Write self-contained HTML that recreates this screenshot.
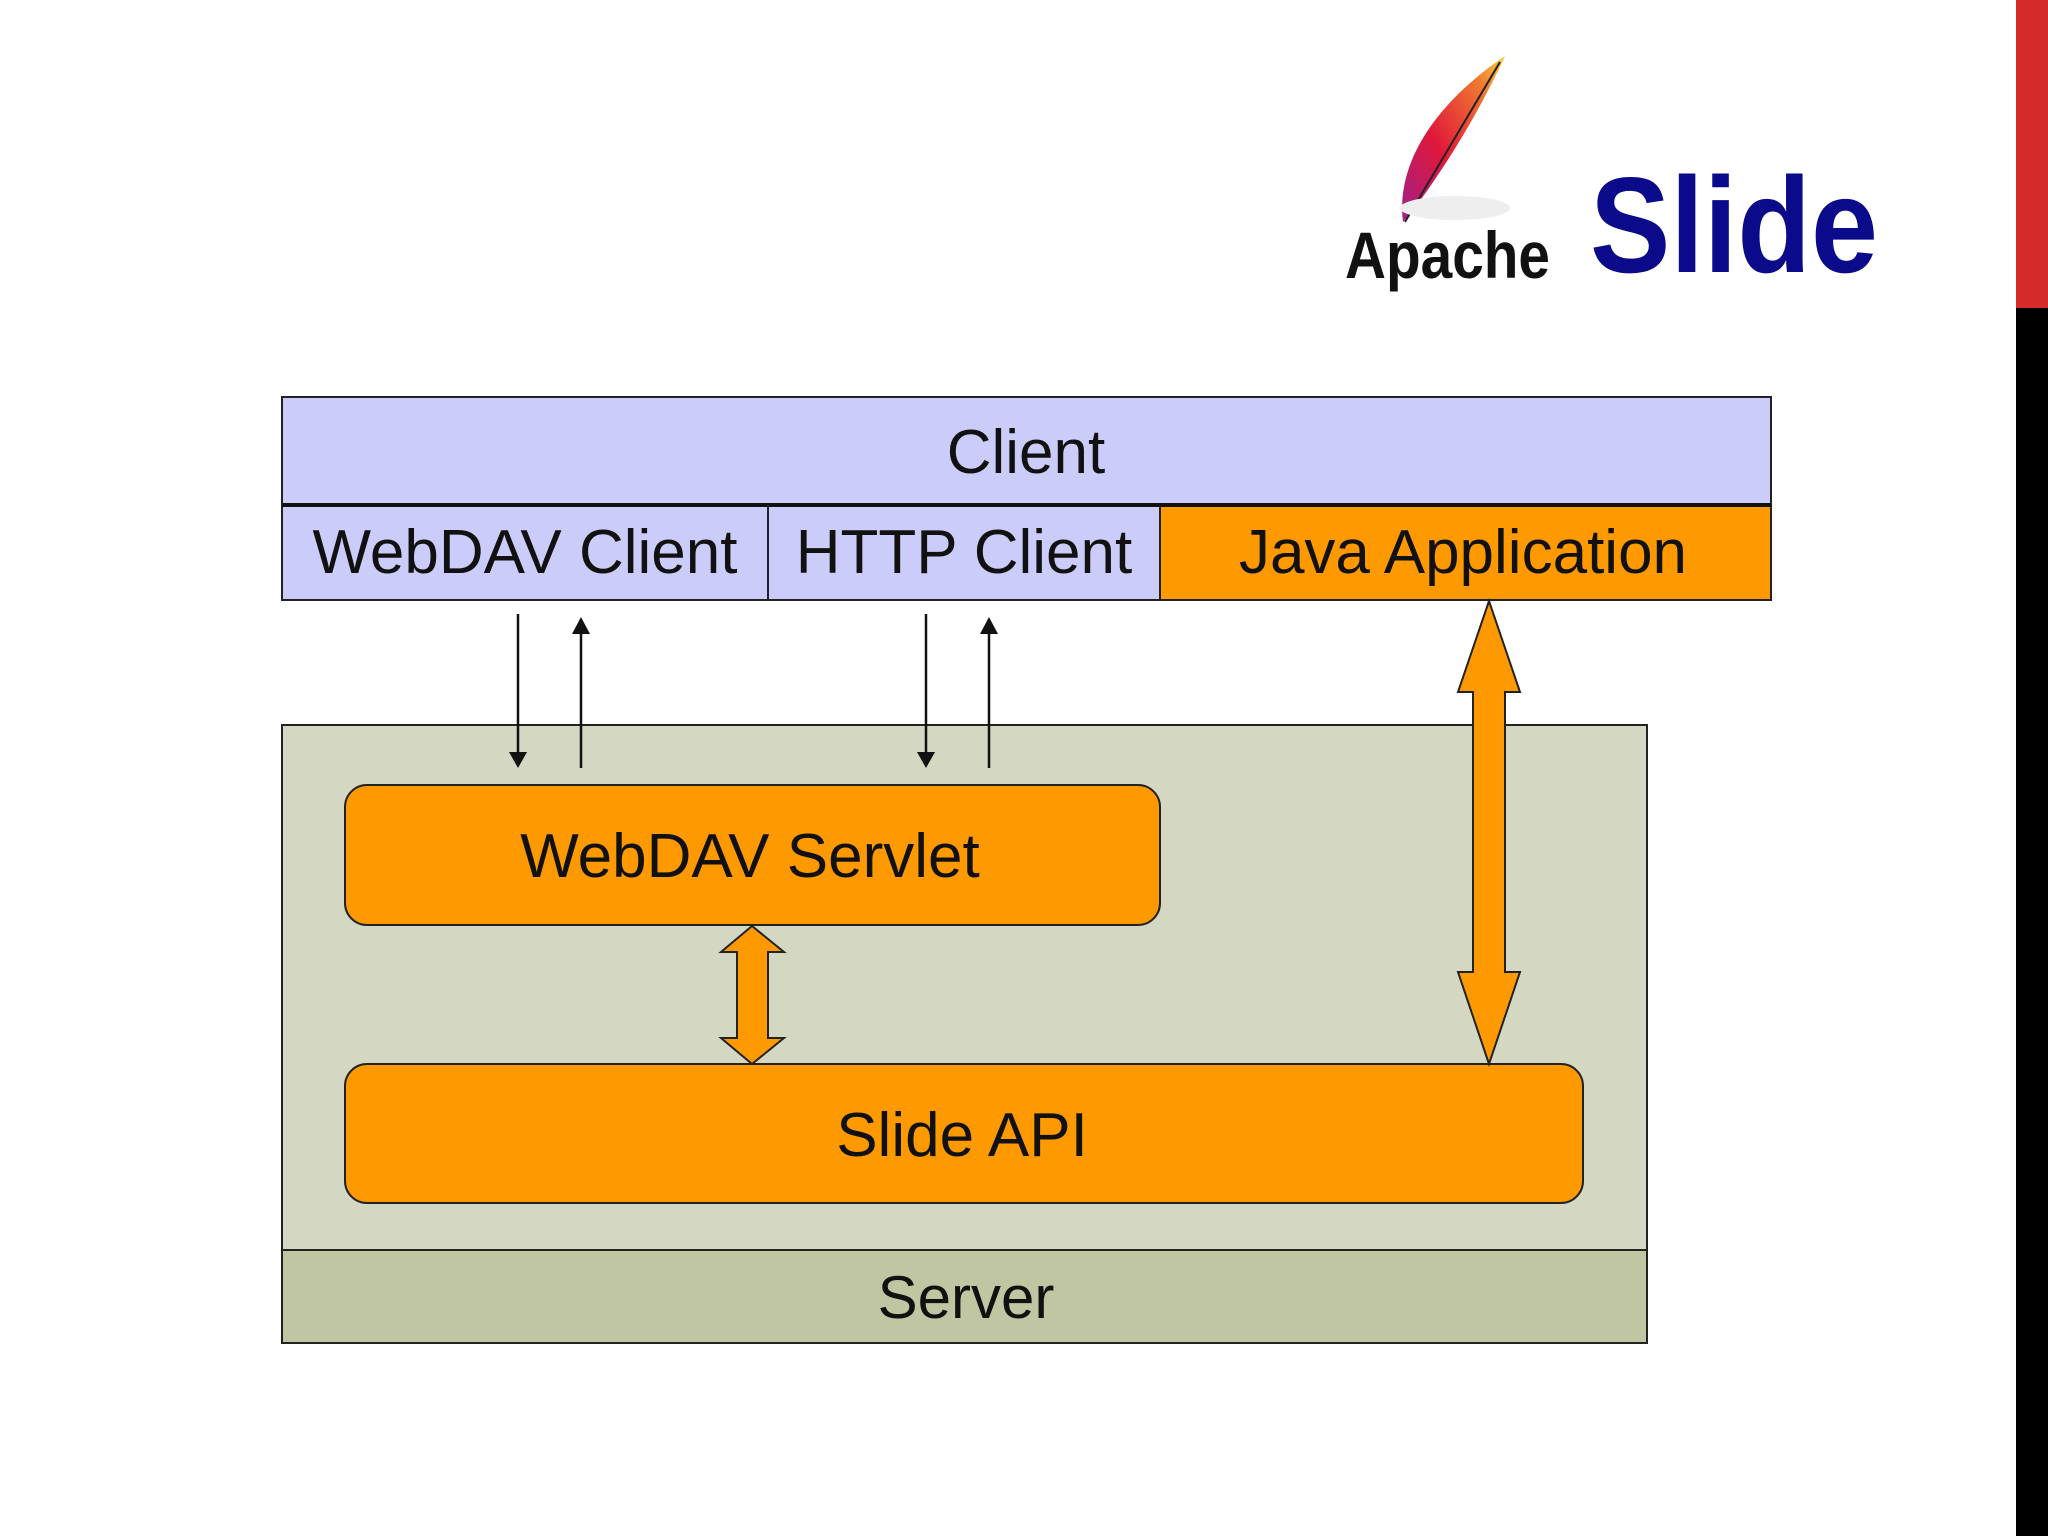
<!DOCTYPE html>
<html><head><meta charset="utf-8"><style>
html,body{margin:0;padding:0;background:#fff;}
svg{display:block;}
text{font-family:"Liberation Sans",Arial,sans-serif;}
</style></head><body>
<svg width="2048" height="1536" viewBox="0 0 2048 1536" xmlns="http://www.w3.org/2000/svg">
<defs>
<linearGradient id="feather" x1="0" y1="1" x2="1" y2="0">
<stop offset="0" stop-color="#a0208a"/><stop offset="0.4" stop-color="#e0183a"/><stop offset="0.8" stop-color="#f07a30"/><stop offset="1" stop-color="#f8d040"/>
</linearGradient>
</defs>
<rect x="0" y="0" width="2048" height="1536" fill="#fff"/>
<rect x="2016" y="0" width="32" height="308" fill="#d42a2a"/>
<rect x="2016" y="308" width="32" height="1228" fill="#000"/>
<!-- logo -->
<path d="M1403 222 C1395 160 1440 100 1505 56 C1480 110 1450 160 1412 212 Z" fill="url(#feather)"/>
<path d="M1405 222 L1500 62" stroke="#222" stroke-width="2"/>
<ellipse cx="1455" cy="208" rx="55" ry="12" fill="#eee"/>
<text x="1345" y="278" font-size="66" font-weight="bold" fill="#111" textLength="205" lengthAdjust="spacingAndGlyphs">Apache</text>
<text x="1590" y="272" font-size="136" font-weight="bold" fill="#0a0a8a" textLength="288" lengthAdjust="spacingAndGlyphs">Slide</text>
<!-- client -->
<rect x="282" y="397" width="1489" height="108" fill="#ccccfa" stroke="#222" stroke-width="2"/>
<rect x="282" y="505" width="1489" height="95" fill="#ccccfa" stroke="#222" stroke-width="2"/>
<rect x="1160" y="505" width="611" height="95" fill="#fe9900" stroke="#222" stroke-width="2"/>
<line x1="282" y1="505" x2="1771" y2="505" stroke="#111" stroke-width="4"/>
<line x1="768" y1="505" x2="768" y2="600" stroke="#222" stroke-width="2"/>
<text x="1026" y="473" font-size="62" text-anchor="middle" fill="#111">Client</text>
<text x="525" y="573" font-size="62" text-anchor="middle" fill="#111">WebDAV Client</text>
<text x="964" y="573" font-size="62" text-anchor="middle" fill="#111">HTTP Client</text>
<text x="1463" y="573" font-size="62" text-anchor="middle" fill="#111">Java Application</text>
<!-- server -->
<rect x="282" y="725" width="1365" height="525" fill="#d4d7c1" stroke="#222" stroke-width="2"/>
<rect x="282" y="1250" width="1365" height="93" fill="#c0c6a2" stroke="#222" stroke-width="2"/>
<text x="966" y="1318" font-size="60" text-anchor="middle" fill="#111">Server</text>
<rect x="345" y="785" width="815" height="140" rx="22" fill="#fe9900" stroke="#222" stroke-width="2"/>
<text x="750" y="877" font-size="62" text-anchor="middle" fill="#111">WebDAV Servlet</text>
<rect x="345" y="1064" width="1238" height="139" rx="22" fill="#fe9900" stroke="#222" stroke-width="2"/>
<text x="962" y="1156" font-size="62" text-anchor="middle" fill="#111">Slide API</text>
<!-- thin arrows -->
<g stroke="#111" stroke-width="2.5" fill="#111">
<line x1="518" y1="614" x2="518" y2="752"/><polygon points="509,752 527,752 518,768" stroke="none"/>
<line x1="581" y1="634" x2="581" y2="768"/><polygon points="572,634 590,634 581,617" stroke="none"/>
<line x1="926" y1="614" x2="926" y2="752"/><polygon points="917,752 935,752 926,768" stroke="none"/>
<line x1="989" y1="634" x2="989" y2="768"/><polygon points="980,634 998,634 989,617" stroke="none"/>
</g>
<!-- big orange double arrow -->
<polygon points="1489,601 1520,692 1505,692 1505,972 1520,972 1489,1064 1458,972 1473,972 1473,692 1458,692" fill="#fe9900" stroke="#222" stroke-width="2"/>
<!-- small orange double arrow -->
<polygon points="752,926 784,952 768,952 768,1038 784,1038 752,1064 721,1038 737,1038 737,952 721,952" fill="#fe9900" stroke="#222" stroke-width="2"/>
</svg>
</body></html>
